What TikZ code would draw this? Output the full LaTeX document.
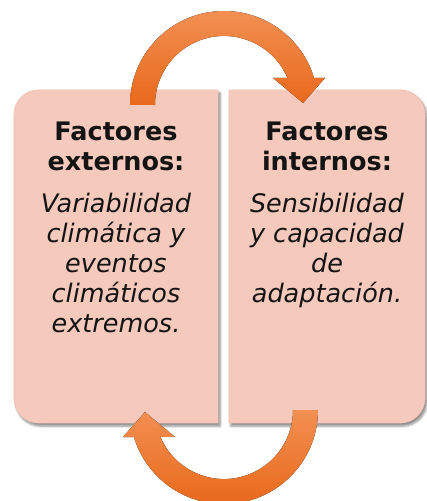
\documentclass[tikz,border=0pt]{standalone}
\usepackage{fontspec}
\setmainfont{DejaVu Sans}
\usetikzlibrary{positioning,shadows.blur}
\definecolor{boxfill}{HTML}{F5CABD}
\definecolor{boxedge}{HTML}{EDBBAC}
\definecolor{ink}{HTML}{141414}
\definecolor{orangehi}{HTML}{F28F52}
\definecolor{orangelo}{HTML}{E8691B}

\begin{document}
\begin{tikzpicture}[
  x=1pt, y=1pt,
  panel/.style  = {minimum width=#1, minimum height=333pt, inner sep=0pt},
  txt/.style    = {text=ink, align=center, inner sep=0pt,
                   font=\fontsize{25.5}{30}\selectfont},
  plate/.style  = {fill=boxfill, draw=boxedge, line width=0.4pt,
                   blur shadow={shadow xshift=2pt, shadow yshift=-3pt,
                                shadow opacity=45, shadow blur steps=6}},
  swirl/.style  = {top color=orangehi, bottom color=orangelo, draw=none},
]
\useasboundingbox (0,0) rectangle (426,501);

% ---------- panels ----------
\node[panel=204pt] (ext) at (116,244.5) {};
\node[panel=196pt] (int) at (327,244.5) {};

\fill[plate] (ext.north east) -- ([xshift=25pt]ext.north west)
  arc[start angle=90, end angle=180, radius=25pt] -- ([yshift=25pt]ext.south west)
  arc[start angle=180, end angle=270, radius=25pt] -- (ext.south east) -- cycle;
\fill[plate] (int.north west) -- ([xshift=-25pt]int.north east)
  arc[start angle=90, end angle=0, radius=25pt] -- ([yshift=25pt]int.south east)
  arc[start angle=0, end angle=-90, radius=25pt] -- (int.south west) -- cycle;

% ---------- texts ----------
\node[txt, below=32pt of ext.north] (exttxt)
  {\textbf{Factores}\\\textbf{externos:}\\[12pt]
   \textit{Variabilidad}\\\textit{climática y}\\\textit{eventos}\\
   \textit{climáticos}\\\textit{extremos.}};
\node[txt, below=32pt of int.north] (inttxt)
  {\textbf{Factores}\\\textbf{internos:}\\[12pt]
   \textit{Sensibilidad}\\\textit{y capacidad}\\\textit{de}\\
   \textit{adaptación.}};

% ---------- cycle arrows ----------
\coordinate (topc) at (224,396);
\coordinate (botc) at (224,91);

\fill[swirl, shift={(topc)}] (-94,0) arc[start angle=180, end angle=16.7, radius=94]
  -- (101,27) -- (79,2) -- (49,27) -- (63.5,27)
  arc[start angle=23, end angle=180, radius=69] -- cycle;
\fill[swirl, shift={(botc)}] (94,0) arc[start angle=0, end angle=-163.3, radius=94]
  -- (-101,-27) -- (-79,-2) -- (-49,-27) -- (-63.5,-27)
  arc[start angle=-157, end angle=0, radius=69] -- cycle;

\end{tikzpicture}
\end{document}
